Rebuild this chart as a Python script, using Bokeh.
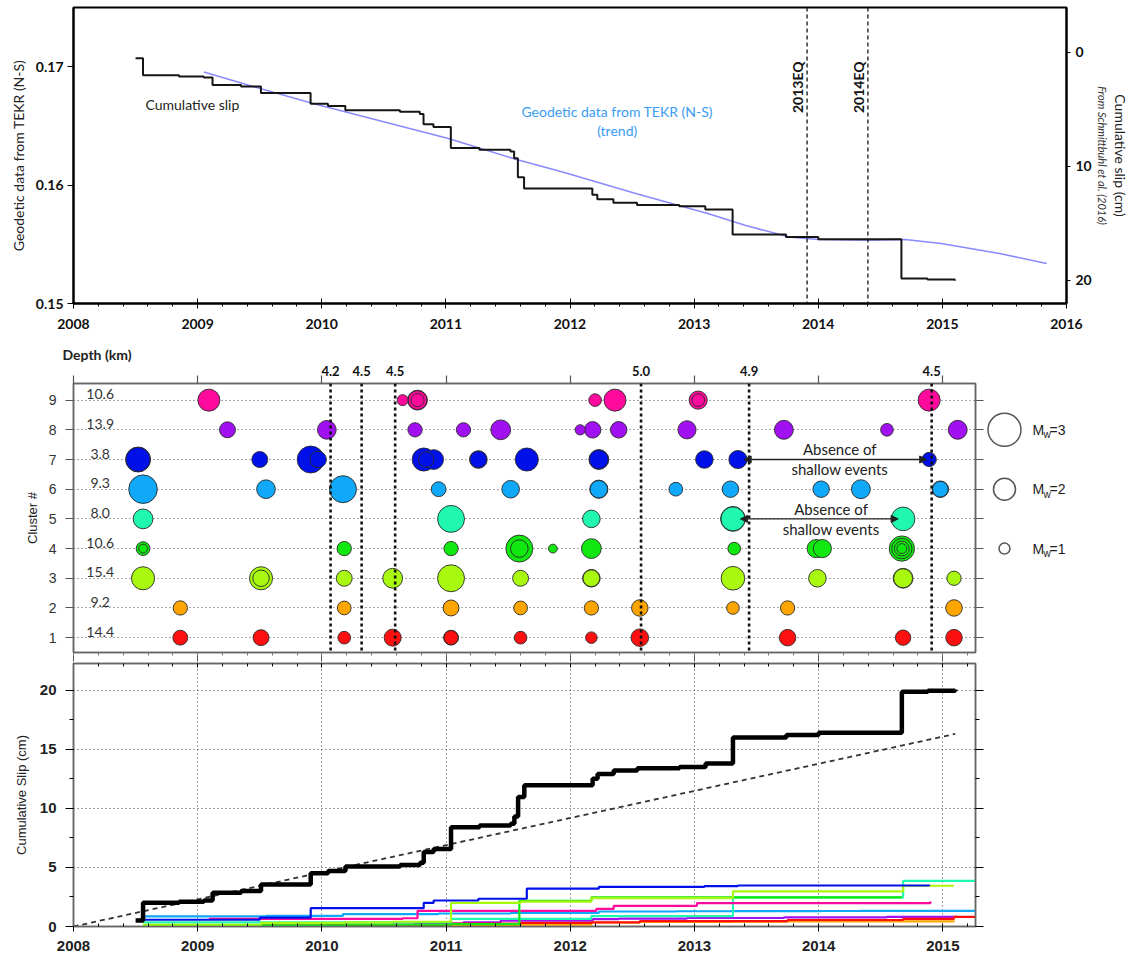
import numpy as np
from math import pi
from bokeh.plotting import figure
from bokeh.layouts import column, row
from bokeh.models import (Range1d, LinearAxis, SingleIntervalTicker, FixedTicker, Span,
                          Label, Arrow, NormalHead, ColumnDataSource, Title)
from bokeh.embed import file_html
from bokeh.resources import INLINE
from bokeh.core.properties import value

# ------------------------------------------------------------------ data
# top panel: geodetic trend (TEKR N-S)
trend_years = [2009.05, 2009.44, 2009.93, 2011.02, 2011.57, 2011.94, 2012.53, 2013.11,
               2013.41, 2013.76, 2014.00, 2014.41, 2014.70, 2014.99, 2015.46, 2015.84]
trend_vals = [0.16956, 0.16835, 0.16689, 0.16394, 0.16216, 0.16111, 0.15929, 0.15760,
              0.15661, 0.15563, 0.15541, 0.15535, 0.15541, 0.15507, 0.15422, 0.15338]

# cumulative slip (cm), total of all clusters
cum_years = [2008.50, 2008.56, 2008.85, 2009.05, 2009.12, 2009.35, 2009.51, 2009.91, 2010.05,
             2010.19, 2010.63, 2010.79, 2010.82, 2010.90, 2011.04, 2011.27, 2011.52, 2011.55,
             2011.58, 2011.63, 2012.18, 2012.22, 2012.35, 2012.54, 2012.88, 2013.09, 2013.31,
             2013.74, 2014.00, 2014.67, 2014.88, 2015.10]
cum_slip = [0.5, 2.0, 2.1, 2.2, 2.85, 3.0, 3.55, 4.5, 4.7,
            5.08, 5.2, 5.4, 6.3, 6.55, 8.4, 8.55, 8.7, 9.3,
            10.96, 11.95, 12.5, 12.9, 13.2, 13.4, 13.5, 13.8, 16.0,
            16.2, 16.4, 19.86, 19.95, 20.05]

# linear slip-rate trend (bottom panel, dashed)
rate_years = [2008.0, 2015.1]
rate_slip = [0.0, 16.3]

# earthquakes (top panel)
eq_years = [2013.91, 2014.40]
eq_names = ["2013EQ", "2014EQ"]

# large events (middle panel) and their magnitudes
big_years = [2010.07, 2010.32, 2010.59, 2012.57, 2013.44, 2014.91]
big_mags = ["4.2", "4.5", "4.5", "5.0", "4.9", "4.5"]

# clusters
clusters = [1, 2, 3, 4, 5, 6, 7, 8, 9]
depths = ["14.4", "9.2", "15.4", "10.6", "8.0", "9.3", "3.8", "13.9", "10.6"]
colors = ["#ff1010", "#ffa500", "#a8f810", "#10e810", "#20f8b0",
          "#10a8f8", "#0010e8", "#a010f0", "#ff0a9c"]

# repeating events per cluster: (year, Mw)
ev_years = {
    9: [2009.09, 2010.65, 2010.77, 2010.77, 2010.77, 2012.20, 2012.36, 2013.03, 2013.03, 2014.89],
    8: [2009.24, 2010.04, 2010.75, 2011.14, 2011.44, 2012.08, 2012.18, 2012.39, 2012.94, 2013.72, 2014.55, 2015.12],
    7: [2008.52, 2008.52, 2009.50, 2009.91, 2009.97, 2010.82, 2010.84, 2010.90, 2011.26, 2011.26,
        2011.65, 2012.23, 2012.23, 2013.08, 2013.35, 2014.89],
    6: [2008.56, 2009.55, 2010.17, 2010.94, 2011.52, 2012.23, 2012.23, 2012.85, 2013.29, 2014.02,
        2014.34, 2014.98, 2014.98],
    5: [2008.56, 2011.04, 2012.17, 2013.31, 2013.31, 2014.68],
    4: [2008.56, 2008.56, 2010.18, 2011.04, 2011.59, 2011.59, 2011.86, 2012.17, 2013.32, 2013.98,
        2014.03, 2014.67, 2014.67, 2014.67, 2014.67],
    3: [2008.56, 2009.51, 2009.51, 2010.18, 2010.57, 2011.04, 2011.60, 2012.17, 2012.17, 2013.31,
        2013.99, 2014.68, 2014.68, 2015.09],
    2: [2008.86, 2010.18, 2011.04, 2011.60, 2012.17, 2012.56, 2013.31, 2013.75, 2015.09],
    1: [2008.86, 2009.51, 2010.18, 2010.57, 2011.04, 2011.04, 2011.60, 2012.17, 2012.56, 2013.75,
        2014.68, 2015.09],
}
ev_mw = {
    9: [2.0, 1.0, 1.8, 1.72, 1.2, 1.15, 2.0, 1.65, 1.15, 2.0],
    8: [1.45, 1.7, 1.3, 1.3, 1.8, 0.93, 1.5, 1.5, 1.65, 1.72, 1.15, 1.72],
    7: [2.27, 2.2, 1.45, 2.45, 1.5, 2.1, 1.4, 1.8, 1.6, 1.52, 2.1, 1.8, 1.72, 1.6, 1.65, 1.3],
    6: [2.6, 1.7, 2.45, 1.35, 1.6, 1.65, 1.58, 1.25, 1.5, 1.5, 1.72, 1.5, 1.42],
    5: [1.8, 2.45, 1.6, 2.25, 2.18, 2.15],
    4: [1.25, 0.8, 1.3, 1.3, 2.45, 1.6, 0.8, 1.8, 1.15, 1.65, 1.65, 2.3, 1.85, 1.35, 0.9],
    3: [2.1, 2.1, 1.5, 1.45, 1.8, 2.45, 1.45, 1.6, 1.52, 2.15, 1.6, 1.8, 1.72, 1.3],
    2: [1.3, 1.25, 1.45, 1.25, 1.3, 1.5, 1.15, 1.3, 1.5],
    1: [1.35, 1.45, 1.15, 1.55, 1.35, 1.28, 1.15, 1.05, 1.6, 1.5, 1.4, 1.5],
}

# cumulative slip per cluster (cm)
cl_years = {
    7: [2008.52, 2009.50, 2009.91, 2010.82, 2010.90, 2011.26, 2011.65, 2012.23, 2013.08, 2013.35, 2014.89],
    6: [2008.56, 2009.55, 2010.17, 2010.94, 2011.52, 2012.23, 2012.85, 2013.29, 2014.02, 2014.34, 2014.98, 2015.26],
    9: [2009.09, 2010.65, 2010.77, 2012.21, 2012.35, 2013.02, 2014.90],
    5: [2008.56, 2011.04, 2012.17, 2013.31, 2014.68, 2015.26],
    4: [2008.56, 2010.18, 2011.04, 2011.59, 2012.17, 2014.67],
    3: [2008.56, 2009.51, 2010.18, 2010.57, 2011.04, 2011.60, 2012.17, 2013.31, 2014.68, 2015.09],
    2: [2008.86, 2010.18, 2011.04, 2011.60, 2012.17, 2012.56, 2013.31, 2013.75, 2015.09],
    1: [2008.86, 2009.51, 2010.18, 2010.57, 2011.04, 2011.60, 2012.17, 2012.56, 2013.75, 2014.68, 2015.09, 2015.26],
    8: [2009.24, 2010.04, 2010.75, 2011.14, 2011.44, 2012.18, 2012.39, 2012.94, 2013.72, 2014.55, 2015.12],
}
cl_slip = {
    7: [0.57, 0.75, 1.55, 2.0, 2.2, 2.35, 3.2, 3.35, 3.42, 3.47, 3.53],
    6: [0.85, 0.9, 1.05, 1.1, 1.15, 1.27, 1.29, 1.3, 1.31, 1.32, 1.33, 1.33],
    9: [0.65, 0.7, 1.33, 1.5, 1.75, 1.97, 2.12],
    5: [0.35, 0.65, 0.88, 2.46, 3.87, 3.87],
    4: [0.1, 0.15, 0.2, 2.18, 2.46, 2.46],
    3: [0.15, 0.3, 0.35, 0.4, 2.0, 2.1, 2.4, 2.97, 3.45, 3.45],
    2: [0.03, 0.06, 0.1, 0.15, 0.34, 0.38, 0.41, 0.44, 0.48],
    1: [0.03, 0.08, 0.1, 0.15, 0.25, 0.3, 0.35, 0.45, 0.55, 0.65, 0.82, 0.82],
    8: [0.05, 0.15, 0.25, 0.35, 0.5, 0.62, 0.66, 0.72, 0.78, 0.82, 0.88],
}

legend_mw = [3, 2, 1]
legend_rows = [8, 6, 4]

# ------------------------------------------------------------------ styles
CAL = "Lato"
HEL = "Liberation Sans"
MW_PX = 11.0
YEARS = list(range(2008, 2017))


def hide_labels(ax):
    ax.major_label_text_color = None
    ax.major_label_text_font_size = "1px"
    ax.major_label_standoff = 0


def lab(p, x, y, text, **kw):
    p.add_layout(Label(x=x, y=y, text=text, **kw))


# ------------------------------------------------------------------ top panel
top = figure(frame_width=993, frame_height=296, min_border_left=71, min_border_right=66,
             min_border_top=7, min_border_bottom=37,
             x_range=Range1d(2008, 2016), y_range=Range1d(0.15, 0.175),
             output_backend="svg", toolbar_location=None)
top.grid.visible = False
top.outline_line_color = "black"
top.outline_line_width = 2

xa = top.xaxis[0]
xa.ticker = SingleIntervalTicker(interval=1, num_minor_ticks=5)
xa.major_tick_in = 5
xa.major_tick_out = 5
xa.minor_tick_in = 0
xa.minor_tick_out = 3
xa.major_label_standoff = 10
xa.major_label_text_font = CAL
xa.major_label_text_font_style = "bold"
xa.major_label_text_font_size = "14px"
xa.major_label_text_color = "#111"
xa.axis_line_color = "black"
xa.axis_line_width = 2

ya = top.yaxis[0]
ya.ticker = FixedTicker(ticks=[0.15, 0.16, 0.17])
ya.major_tick_in = 0
ya.major_tick_out = 6
ya.minor_tick_out = 0
ya.minor_tick_in = 0
ya.major_label_standoff = 4
ya.major_label_text_font = CAL
ya.major_label_text_font_style = "bold"
ya.major_label_text_font_size = "14px"
ya.major_label_text_color = "#111"
ya.axis_label = "Geodetic data from TEKR (N-S)"
ya.axis_label_text_font = CAL
ya.axis_label_text_font_style = "normal"
ya.axis_label_text_font_size = "14px"
ya.axis_label_text_color = "#222"
ya.axis_label_standoff = 6
ya.axis_line_color = "black"
ya.axis_line_width = 2

top.extra_y_ranges = {"slip": Range1d(22.05, -3.95)}
ra = LinearAxis(y_range_name="slip", ticker=FixedTicker(ticks=[0, 10, 20]))
ra.major_tick_in = 0
ra.major_tick_out = 4
ra.minor_tick_out = 0
ra.major_label_standoff = 5
ra.major_label_text_font = CAL
ra.major_label_text_font_style = "bold"
ra.major_label_text_font_size = "14px"
ra.major_label_text_color = "#111"
ra.axis_line_color = "black"
ra.axis_line_width = 2
top.add_layout(ra, "right")
top.add_layout(Title(text="From Schmittbuhl et al. (2016)", align="center", standoff=2,
                     text_font=CAL, text_font_style="italic", text_font_size="11px",
                     text_color="#333"), "right")
top.add_layout(Title(text="Cumulative slip (cm)", align="center", standoff=0,
                     text_font=CAL, text_font_style="normal", text_font_size="14px",
                     text_color="#222"), "right")

top.line(trend_years, trend_vals, line_color="#8a8aff", line_width=1.6)
top.step(cum_years, cum_slip, mode="after", y_range_name="slip", line_color="#151515", line_width=2)

for yr in eq_years:
    top.add_layout(Span(location=yr, dimension="height", line_color="#222", line_width=1.4,
                        line_dash="4 3"))
for yr, nm in zip(eq_years, eq_names):
    lab(top, yr - 0.075, 0.16827, nm, angle=pi / 2, text_align="center", text_baseline="middle",
        text_font=CAL, text_font_style="bold", text_font_size="14px", text_color="#111")

lab(top, 2008.58, 0.16683, "Cumulative slip", text_align="left", text_baseline="middle",
    text_font=CAL, text_font_size="14px", text_color="#222")
lab(top, 2012.38, 0.16625, "Geodetic data from TEKR (N-S)", text_align="center", text_baseline="middle",
    text_font=CAL, text_font_size="14px", text_color="#3a9cf5")
lab(top, 2012.38, 0.16457, "(trend)", text_align="center", text_baseline="middle",
    text_font=CAL, text_font_size="14px", text_color="#3a9cf5")

# ------------------------------------------------------------------ middle panel
x_mid = Range1d(2008, 2015.263)
y_mid = Range1d(0.5, 9.56)
mid = figure(frame_width=902, frame_height=269, min_border_left=73, min_border_right=10,
             min_border_top=43, min_border_bottom=10, x_range=x_mid, y_range=y_mid,
             output_backend="svg", toolbar_location=None)
mid.xgrid.visible = False
mid.ygrid.grid_line_color = "#555"
mid.ygrid.grid_line_dash = "1 3"
mid.ygrid.grid_line_width = 1
mid.outline_line_color = "#666"
mid.outline_line_width = 1.5

mxa = mid.xaxis[0]
mxa.ticker = SingleIntervalTicker(interval=1, num_minor_ticks=5)
mxa.major_tick_in = 0
mxa.major_tick_out = 9
mxa.minor_tick_in = 0
mxa.minor_tick_out = 3
mxa.axis_line_color = "#666"
mxa.axis_line_width = 1.5
mxa.major_tick_line_color = "#555"
mxa.minor_tick_line_color = "#777"
hide_labels(mxa)

# top axis: year ticks (minor) and magnitudes of the large events (labels)
mta = LinearAxis(ticker=FixedTicker(ticks=big_years, minor_ticks=YEARS))
mta.major_tick_in = 0
mta.major_tick_out = 0
mta.minor_tick_in = 0
mta.minor_tick_out = 8
mta.minor_tick_line_color = "#555"
mta.minor_tick_line_width = 1.2
mta.major_label_overrides = {yr: m for yr, m in zip(big_years, big_mags)}
mta.major_label_standoff = 0
mta.major_label_text_font = CAL
mta.major_label_text_font_style = "bold"
mta.major_label_text_font_size = "13px"
mta.major_label_text_color = "#111"
mta.axis_line_color = "#666"
mta.axis_line_width = 1.5
mid.add_layout(mta, "above")
mid.add_layout(Title(text="Depth (km)", align="left", offset=-11, standoff=0,
                     text_font=CAL, text_font_style="bold", text_font_size="14px",
                     text_color="#222"), "above")

mya = mid.yaxis[0]
mya.ticker = SingleIntervalTicker(interval=1, num_minor_ticks=0)
mya.major_tick_in = 0
mya.major_tick_out = 8
mya.minor_tick_out = 0
mya.major_label_standoff = 9
mya.major_label_text_font = HEL
mya.major_label_text_font_size = "14px"
mya.major_label_text_color = "#333"
mya.axis_label = "Cluster #"
mya.axis_label_text_font = HEL
mya.axis_label_text_font_style = "normal"
mya.axis_label_text_font_size = "13px"
mya.axis_label_text_color = "#222"
mya.axis_label_standoff = 6
mya.axis_line_color = "#666"
mya.axis_line_width = 1.5
mya.major_tick_line_color = "#555"

mra = LinearAxis(ticker=SingleIntervalTicker(interval=1, num_minor_ticks=0))
mra.major_tick_in = 0
mra.major_tick_out = 8
mra.minor_tick_out = 0
mra.axis_line_color = "#666"
mra.axis_line_width = 1.5
mra.major_tick_line_color = "#555"
hide_labels(mra)
mid.add_layout(mra, "right")

for yr in big_years:
    mid.add_layout(Span(location=yr, dimension="height", line_color="#111", line_width=2.6,
                        line_dash="3 3"))

bx, by, bs, bc = [], [], [], []
for c in clusters:
    for yr, mw in zip(ev_years[c], ev_mw[c]):
        bx.append(yr)
        by.append(c)
        bs.append(mw)
        bc.append(colors[c - 1])
order = np.argsort(-np.array(bs), kind="stable")
src = ColumnDataSource(dict(x=[bx[i] for i in order], y=[by[i] for i in order],
                            size=[bs[i] * MW_PX for i in order], color=[bc[i] for i in order]))
mid.scatter("x", "y", size="size", fill_color="color", line_color="#2a2a2a", line_width=0.9,
            source=src)

for c, d in zip(clusters, depths):
    lab(mid, 2008.215, c, d, text_align="center", text_baseline="middle", y_offset=6,
        text_font=CAL, text_font_size="14px", text_color="#333")

# arrows: absence of shallow events
arrows = [(2013.40, 2014.87, 7, 2014.17, 7.34, 6.68), (2013.37, 2014.64, 5, 2014.10, 5.32, 4.65)]
for x0, x1, yy, tx, ty1, ty2 in arrows:
    mid.add_layout(Arrow(x_start=x0, y_start=yy, x_end=x1, y_end=yy, line_color="#222", line_width=1.4,
                         start=NormalHead(size=7, fill_color="#222", line_color="#222"),
                         end=NormalHead(size=7, fill_color="#222", line_color="#222")))
    lab(mid, tx, ty1, "Absence of", text_align="center", text_baseline="middle",
        text_font=CAL, text_font_size="15px", text_color="#222")
    lab(mid, tx, ty2, "shallow events", text_align="center", text_baseline="middle",
        text_font=CAL, text_font_size="15px", text_color="#222")

# legend panel
leg = figure(frame_width=145, frame_height=269, min_border_left=0, min_border_right=0,
             min_border_top=43, min_border_bottom=10, x_range=Range1d(0, 145), y_range=y_mid,
             output_backend="svg", toolbar_location=None)
leg.axis.visible = False
leg.grid.visible = False
leg.outline_line_color = None
leg.scatter([19] * 3, legend_rows, size=[m * MW_PX for m in legend_mw], fill_color="white",
            line_color="#555", line_width=1.5)
leg.text([47] * 3, legend_rows, text=["M"] * 3, text_font=value(HEL), text_font_size="14px",
         text_baseline="middle", text_align="left", text_color="#222")
leg.text([58] * 3, legend_rows, text=["w"] * 3, text_font=value(HEL), text_font_size="10px",
         text_baseline="middle", text_align="left", text_color="#222", y_offset=5)
leg.text([64] * 3, legend_rows, text=["=%d" % m for m in legend_mw], text_font=value(HEL),
         text_font_size="14px", text_baseline="middle", text_align="left", text_color="#222")

# ------------------------------------------------------------------ bottom panel
bot = figure(frame_width=902, frame_height=263, min_border_left=73, min_border_right=155,
             min_border_top=1, min_border_bottom=30, x_range=x_mid, y_range=Range1d(0, 22.26),
             output_backend="svg", toolbar_location=None)
bot.outline_line_color = "#666"
bot.outline_line_width = 1.5
bot.xgrid.ticker = SingleIntervalTicker(interval=1)
bot.ygrid.ticker = SingleIntervalTicker(interval=5)
for g in (bot.xgrid, bot.ygrid):
    g.grid_line_color = "#444"
    g.grid_line_dash = "1 3"
    g.grid_line_width = 1

bxa = bot.xaxis[0]
bxa.ticker = SingleIntervalTicker(interval=1, num_minor_ticks=5)
bxa.major_tick_in = 0
bxa.major_tick_out = 5
bxa.minor_tick_in = 3
bxa.minor_tick_out = 0
bxa.major_label_standoff = 9
bxa.major_label_text_font = HEL
bxa.major_label_text_font_style = "bold"
bxa.major_label_text_font_size = "15px"
bxa.major_label_text_color = "#222"
bxa.axis_line_color = "#666"
bxa.axis_line_width = 1.5

bta = LinearAxis(ticker=SingleIntervalTicker(interval=1, num_minor_ticks=5))
bta.major_tick_in = 4
bta.major_tick_out = 0
bta.minor_tick_in = 3
bta.minor_tick_out = 0
bta.axis_line_color = "#666"
bta.axis_line_width = 1.5
hide_labels(bta)
bot.add_layout(bta, "above")

bya = bot.yaxis[0]
bya.ticker = SingleIntervalTicker(interval=5, num_minor_ticks=2)
bya.major_tick_in = 0
bya.major_tick_out = 8
bya.minor_tick_in = 0
bya.minor_tick_out = 4
bya.major_label_standoff = 9
bya.major_label_text_font = HEL
bya.major_label_text_font_style = "bold"
bya.major_label_text_font_size = "15px"
bya.major_label_text_color = "#222"
bya.axis_label = "Cumulative Slip (cm)"
bya.axis_label_text_font = HEL
bya.axis_label_text_font_style = "normal"
bya.axis_label_text_font_size = "13px"
bya.axis_label_text_color = "#222"
bya.axis_label_standoff = 8
bya.axis_line_color = "#666"
bya.axis_line_width = 1.5

bra = LinearAxis(ticker=SingleIntervalTicker(interval=5, num_minor_ticks=2))
bra.major_tick_in = 0
bra.major_tick_out = 8
bra.minor_tick_in = 0
bra.minor_tick_out = 4
bra.axis_line_color = "#666"
bra.axis_line_width = 1.5
hide_labels(bra)
bot.add_layout(bra, "right")

for c in [8, 2, 1, 6, 5, 9, 4, 3, 7]:
    bot.step(cl_years[c], cl_slip[c], mode="after", line_color=colors[c - 1], line_width=2.2)
bot.line(rate_years, rate_slip, line_color="#333", line_width=1.8, line_dash="5 4")
bot.step(cum_years, cum_slip, mode="after", line_color="black", line_width=4.5)

layout = column(top, row(mid, leg), bot)
open("out.html", "w").write(file_html(layout, INLINE))
